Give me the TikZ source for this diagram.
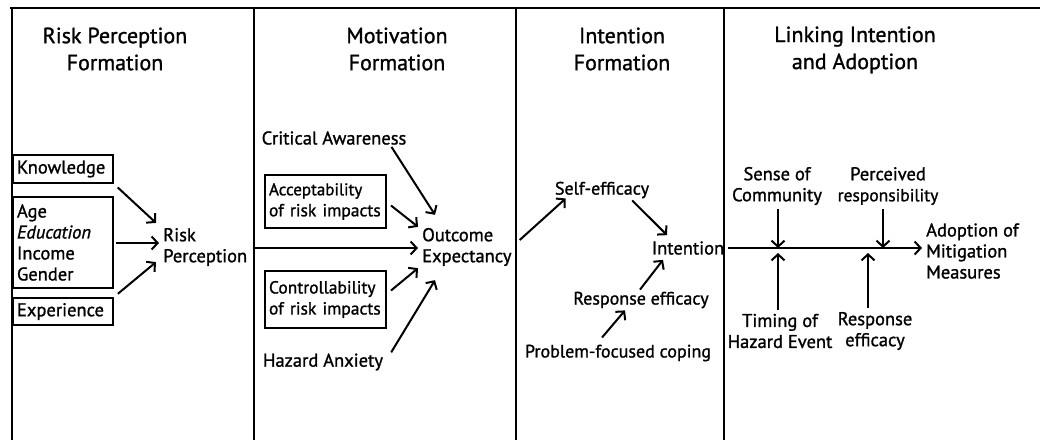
\documentclass[tikz,border=0pt]{standalone}
\usepackage{fontspec}
\setmainfont{PT Sans}[FakeBold=1.2]
\usetikzlibrary{arrows.meta}

\begin{document}
\begin{tikzpicture}[x=1pt,y=-1pt,
  stage/.style={align=center,font=\fontsize{22}{27}\selectfont},
  factor/.style={draw=black,line width=2pt,inner sep=4pt,align=left,font=\fontsize{18.5}{21}\selectfont},
  factorW/.style={factor,text width=113pt},
  factorN/.style={factor,text width=92pt},
  label/.style={align=left,inner sep=4pt,font=\fontsize{18.5}{21}\selectfont},
  labelS/.style={label,font=\fontsize{18}{21}\selectfont},
  arr/.style={line width=2pt,-{Straight Barb[length=6pt,width=13pt,line width=2pt]}},
  rule/.style={line width=2.8pt}]
\def\ymid{248};
\useasboundingbox (0,0) rectangle (1040,440);

% frame and stage separators
\draw[rule] (10,8) -- (1040,8);
\foreach \xs in {12,254,516,724}
  \draw[rule] (\xs,8) -- (\xs,440);

\node[stage] (T1) at (115,49) {Risk Perception\\Formation};
\node[stage] (T2) at (397,49) {Motivation\\Formation};
\node[stage] (T3) at (622,49) {Intention\\Formation};
\node[stage] (T4) at (855,50) {Linking Intention\\and Adoption};

% risk perception
\node[factorN,minimum height=28pt] (Know) at (63,169) {Knowledge};
\node[factorN,minimum height=91pt] (Demo) at (63,242.5) {Age\\\textit{Education}\\Income\\Gender};
\node[factorN,minimum height=27pt] (Exp) at (63,311.5) {Experience};
\node[label,anchor=west] (RP) at (159,247) {Risk\\Perception};
\draw[arr,shorten <=5pt] (Know.south east) -- ([xshift=-3pt,yshift=1pt]RP.north west);
\draw[arr] ([xshift=2pt]Demo.east |- 0,243) -- (RP.west |- 0,243);
\draw[arr,shorten <=5pt] (Exp.north east) -- ([xshift=-3pt,yshift=8pt]RP.south west);

% motivation
\node[label] (CA) at (334,138) {Critical Awareness};
\node[factorW,minimum height=53pt] (Acc) at (325.5,201.5) {{\fontsize{17}{20}\selectfont Acceptability}\\{\fontsize{17.5}{20}\selectfont of risk impacts}};
\node[factorW,minimum height=57pt] (Ctl) at (325.5,299.5) {{\fontsize{17.5}{20}\selectfont Controllability}\\{\fontsize{17.5}{20}\selectfont of risk impacts}};
\node[label] (HA) at (323,362) {Hazard Anxiety};
\node[label,anchor=west] (OE) at (418,247) {Outcome\\Expectancy};
\coordinate (RPout) at (254,\ymid);
\draw[arr] (RPout) -- (OE.west |- RPout);
\draw[arr] ([xshift=-19pt,yshift=2pt]CA.south east) -- ([xshift=17pt,yshift=9pt]OE.north west);
\draw[arr] ([xshift=4pt,yshift=-4pt]Acc.east) -- ([yshift=-3pt]OE.north west);
\draw[arr] ([xshift=4pt,yshift=9pt]Ctl.east) -- ([yshift=2pt]OE.south west);
\draw[arr] ([xshift=4pt,yshift=-3pt]HA.north east) -- ([xshift=17pt,yshift=-10pt]OE.south west);

% intention
\node[labelS] (SE) at (602,190) {Self-efficacy};
\node[label] (Int) at (688,248) {Intention};
\node[labelS] (RE) at (641,300) {Response efficacy};
\node[labelS] (PFC) at (618,353) {Problem-focused coping};
\draw[arr] ([xshift=4pt,yshift=7pt]OE.east) -- ([xshift=15pt,yshift=4pt]SE.south west);
\draw[arr] ([xshift=-21pt,yshift=2pt]SE.south east) -- ([xshift=-21pt,yshift=2pt]Int.north);
\draw[arr] ([xshift=-1pt,yshift=-2pt]RE.north) -- ([xshift=-25pt,yshift=-1pt]Int.south);
\draw[arr] ([xshift=-16pt,yshift=3pt]PFC.north) -- ([xshift=-16pt,yshift=2pt]RE.south);

% linking intention and adoption
\node[label,anchor=west] (Adopt) at (922,251) {Adoption of\\Mitigation\\Measures};
\node[label,align=center] (SoC) at (777,186) {Sense of\\Community};
\node[label,align=center] (PR) at (888,186) {Perceived\\{\fontsize{17.5}{21}\selectfont responsibility}};
\node[label,align=center] (THE) at (780,331) {Timing of\\Hazard Event};
\node[label,align=center] (RE2) at (875,331) {Response\\efficacy};
\draw[arr] (Int.east) -- (Int.east -| Adopt.west);
\draw[arr] ([xshift=1pt]SoC.south) -- ([xshift=1pt]SoC.south |- Int.east);
\draw[arr] ([xshift=-5pt]PR.south) -- ([xshift=-5pt]PR.south |- Int.east);
\draw[arr,shorten >=5pt] ([xshift=-2pt]THE.north) -- ([xshift=-2pt]THE.north |- Int.east);
\draw[arr,shorten >=5pt] ([xshift=-7pt]RE2.north) -- ([xshift=-7pt]RE2.north |- Int.east);
\end{tikzpicture}
\end{document}
